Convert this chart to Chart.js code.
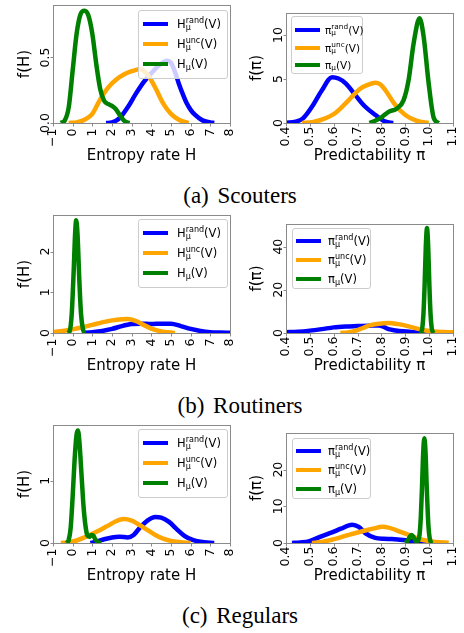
<!DOCTYPE html>
<html><head><meta charset="utf-8">
<script src="https://cdn.jsdelivr.net/npm/chart.js@4.4.0/dist/chart.umd.min.js"></script>
<style>
html,body{margin:0;padding:0;background:#fff;}
body{width:464px;height:633px;position:relative;overflow:hidden;font-family:'DejaVu Sans',sans-serif;}
.panel{position:absolute;}
.legend{position:absolute;background:rgba(255,255,255,0.8);border:1px solid #cccccc;border-radius:3px;box-sizing:border-box;}
.row{position:absolute;left:0;height:0;width:100%;}
.hd{position:absolute;top:-2px;height:4px;}
.lbl{position:absolute;top:0;line-height:0;white-space:nowrap;color:#000;font-family:'DejaVu Sans',sans-serif;}
.ss{position:relative;}
.sp{position:relative;}
.sb{position:absolute;left:0;line-height:0;}
.caption{position:absolute;left:0;width:480px;text-align:center;font-family:'Liberation Serif',serif;font-size:23px;line-height:23px;color:#000;white-space:nowrap;}
</style></head><body>
<script>
// ---------------- data ----------------
const seriesSup = ['rand', 'unc', ''];
const hTicks = [-1, 0, 1, 2, 3, 4, 5, 6, 7, 8];
const hTickLabels = ['\u22121', '0', '1', '2', '3', '4', '5', '6', '7', '8'];
const piTicks = [0.4, 0.5, 0.6, 0.7, 0.8, 0.9, 1.0, 1.1];
const piTickLabels = ['0.4', '0.5', '0.6', '0.7', '0.8', '0.9', '1.0', '1.1'];

const yTicksScoutersH = [0, 0.5];      const yLabelsScoutersH = ['0.0', '0.5'];
const yTicksScoutersPi = [0, 5, 10];   const yLabelsScoutersPi = ['0', '5', '10'];
const yTicksRoutinersH = [0, 1, 2];    const yLabelsRoutinersH = ['0', '1', '2'];
const yTicksRoutinersPi = [0, 20, 40]; const yLabelsRoutinersPi = ['0', '20', '40'];
const yTicksRegularsH = [0, 1];        const yLabelsRegularsH = ['0', '1'];
const yTicksRegularsPi = [0, 10, 20];  const yLabelsRegularsPi = ['0', '10', '20'];

// Scouters — entropy rate H
const scoutersH_rand = [[1.7,0],[2.0,0.005],[2.4,0.04],[2.8,0.12],[3.2,0.22],[3.6,0.31],[4.0,0.38],[4.4,0.44],[4.8,0.475],[5.0,0.46],[5.2,0.39],[5.4,0.30],[5.6,0.22],[5.8,0.15],[6.0,0.10],[6.2,0.065],[6.6,0.02],[7.0,0.005],[7.2,0]];
const scoutersH_unc = [[-0.2,0],[0.2,0.005],[0.6,0.025],[1.0,0.07],[1.4,0.18],[1.8,0.27],[2.2,0.33],[2.6,0.37],[3.0,0.395],[3.4,0.41],[3.8,0.37],[4.2,0.27],[4.6,0.15],[5.0,0.07],[5.4,0.025],[5.8,0.004],[5.9,0]];
const scoutersH = [[-0.6,0],[-0.4,0.02],[-0.2,0.12],[0.0,0.40],[0.2,0.68],[0.4,0.83],[0.6,0.857],[0.8,0.82],[1.0,0.68],[1.2,0.45],[1.4,0.26],[1.6,0.17],[1.8,0.145],[2.0,0.13],[2.2,0.105],[2.4,0.06],[2.6,0.02],[2.8,0.003],[2.9,0]];
// Scouters — predictability pi
const scoutersPi_rand = [[0.4,0.03],[0.44,0.15],[0.47,0.5],[0.51,1.9],[0.55,3.7],[0.593,5.2],[0.62,5.05],[0.65,4.5],[0.69,3.2],[0.73,1.9],[0.775,0.9],[0.81,0.23],[0.84,0.02],[0.85,0]];
const scoutersPi_unc = [[0.467,0],[0.51,0.1],[0.55,0.38],[0.607,1.14],[0.663,2.6],[0.711,3.9],[0.74,4.3],[0.774,4.58],[0.795,4.4],[0.816,3.75],[0.858,2.05],[0.9,0.9],[0.949,0.23],[0.998,0]];
const scoutersPi = [[0.75,0],[0.78,0.35],[0.8,0.65],[0.83,1.27],[0.865,1.65],[0.893,2.6],[0.914,4.9],[0.935,9.05],[0.96,11.9],[0.977,9.8],[0.998,4.5],[1.019,0.6],[1.04,0]];
// Routiners — entropy rate H
const routinersH_rand = [[0.5,0],[1.0,0.02],[1.5,0.05],[2.0,0.1],[2.5,0.17],[3.0,0.22],[3.5,0.23],[4.0,0.22],[4.5,0.23],[5.0,0.23],[5.5,0.17],[6.0,0.1],[6.5,0.05],[7.0,0.02],[7.5,0.01],[8.0,0.005]];
const routinersH_unc = [[-1.0,0.02],[-0.5,0.05],[0.0,0.09],[0.5,0.14],[1.0,0.2],[1.5,0.26],[2.0,0.31],[2.5,0.34],[2.8,0.345],[3.2,0.3],[3.6,0.2],[4.0,0.11],[4.5,0.04],[5.0,0.01],[5.2,0]];
const routinersH = [[-0.25,0],[-0.15,0.05],[-0.05,0.45],[0.05,1.5],[0.12,2.4],[0.18,2.77],[0.25,2.4],[0.33,1.4],[0.42,0.5],[0.52,0.1],[0.6,0.01],[0.65,0]];
// Routiners — predictability pi
const routinersPi_rand = [[0.4,0.4],[0.45,0.6],[0.5,1.1],[0.55,1.8],[0.6,2.6],[0.65,3.0],[0.7,3.2],[0.75,3.4],[0.79,3.5],[0.81,2.8],[0.83,1.8],[0.86,1.2],[0.89,0.8],[0.93,0.45],[0.96,0.25],[1.0,0.05],[1.01,0]];
const routinersPi_unc = [[0.628,0],[0.66,0.3],[0.69,1.0],[0.72,2.2],[0.75,3.5],[0.79,4.3],[0.83,4.6],[0.87,4.1],[0.91,3.2],[0.95,2.0],[0.985,1.2],[1.02,0.7],[1.055,0.45],[1.1,0.3]];
const routinersPi = [[0.96,0],[0.966,0.4],[0.971,2.1],[0.976,8.5],[0.981,22],[0.986,40],[0.991,48.6],[0.996,40],[1.001,22],[1.006,8.5],[1.011,2.1],[1.016,0.4],[1.021,0]];
// Regulars — entropy rate H
const regularsH_rand = [[0.9,0],[1.2,0.02],[1.6,0.06],[2.0,0.09],[2.4,0.1],[2.8,0.09],[3.1,0.13],[3.4,0.24],[3.8,0.36],[4.2,0.42],[4.5,0.41],[4.9,0.34],[5.3,0.22],[5.7,0.11],[6.1,0.05],[6.5,0.02],[7.0,0.003],[7.2,0]];
const regularsH_unc = [[-0.6,0],[-0.2,0.01],[0.2,0.04],[0.6,0.09],[1.0,0.15],[1.4,0.21],[1.8,0.28],[2.2,0.35],[2.6,0.385],[3.0,0.36],[3.4,0.29],[3.8,0.21],[4.2,0.13],[4.6,0.07],[5.0,0.035],[5.4,0.015],[5.8,0.003],[6.0,0]];
const regularsH = [[-0.3,0],[-0.2,0.05],[-0.1,0.25],[0.0,0.75],[0.1,1.35],[0.2,1.75],[0.27,1.81],[0.35,1.6],[0.45,1.1],[0.55,0.6],[0.65,0.28],[0.75,0.12],[0.85,0.1],[0.95,0.13],[1.05,0.12],[1.15,0.06],[1.3,0.01],[1.45,0]];
// Regulars — predictability pi
const regularsPi_rand = [[0.425,0],[0.46,0.15],[0.495,0.45],[0.551,1.9],[0.593,2.9],[0.63,3.9],[0.677,5.0],[0.705,4.4],[0.732,2.7],[0.774,1.4],[0.81,1.15],[0.844,1.1],[0.88,0.9],[0.914,0.7],[0.94,0.45],[0.963,0.15],[0.998,0]];
const regularsPi_unc = [[0.509,0],[0.55,0.3],[0.593,0.9],[0.663,2.2],[0.732,3.4],[0.77,4.0],[0.802,4.4],[0.83,4.2],[0.858,3.6],[0.914,2.2],[0.97,0.9],[1.026,0.3],[1.082,0.1]];
const regularsPi = [[0.9,0],[0.91,0.6],[0.92,1.8],[0.927,2.2],[0.935,1.6],[0.943,0.6],[0.95,0.5],[0.955,0.9],[0.96,2.4],[0.965,7],[0.97,15],[0.975,24.5],[0.98,28.6],[0.985,24.5],[0.99,15],[0.995,7],[1.0,2.4],[1.005,0.6],[1.01,0.1],[1.015,0]];

const captionLetters = ['(a)', '(b)', '(c)'];
const captionNames = ['Scouters', 'Routiners', 'Regulars'];

// ---------------- styling / layout ----------------
const COLORS = ['#0000ff', '#ffa500', '#008000'];
const SPINE = '#8a8a8a';
const FONT = "'DejaVu Sans', sans-serif";

const framePlugin = {
  id: 'frame',
  afterDraw(chart, args, o) {
    const {ctx, chartArea: a, scales: {x, y}} = chart;
    ctx.save();
    ctx.strokeStyle = SPINE; ctx.lineWidth = 1;
    const L = Math.round(a.left) + 0.5, T = Math.round(a.top) + 0.5;
    const R = Math.round(a.right) + 0.5, B = Math.round(a.bottom) + 0.5;
    ctx.strokeRect(L, T, R - L, B - T);
    ctx.beginPath();
    x.ticks.forEach(t => { const px = Math.round(x.getPixelForValue(t.value)) + 0.5; ctx.moveTo(px, B); ctx.lineTo(px, B + 3); });
    y.ticks.forEach(t => { const py = Math.round(y.getPixelForValue(t.value)) + 0.5; ctx.moveTo(L, py); ctx.lineTo(L - 3, py); });
    ctx.stroke();
    ctx.fillStyle = '#000';
    ctx.font = o.tickSize + 'px ' + FONT;
    x.ticks.forEach((t, i) => {
      const px = x.getPixelForValue(t.value);
      ctx.save(); ctx.translate(px, B + o.xGap); ctx.rotate(-Math.PI / 2);
      ctx.textAlign = 'right'; ctx.textBaseline = 'middle';
      ctx.fillText(o.xLabels[i], 0, 0); ctx.restore();
    });
    y.ticks.forEach((t, i) => {
      const py = y.getPixelForValue(t.value);
      ctx.save(); ctx.translate(L - o.yGap, py); ctx.rotate(-Math.PI / 2);
      ctx.textAlign = 'center'; ctx.textBaseline = 'alphabetic';
      ctx.fillText(o.yLabels[i], 0, 0); ctx.restore();
    });
    ctx.restore();
  }
};

function makeChart(p) {
  const div = document.createElement('div');
  div.className = 'panel';
  Object.assign(div.style, {left: p.left + 'px', top: p.top + 'px', width: p.w + 'px', height: p.h + 'px'});
  const cv = document.createElement('canvas');
  div.appendChild(cv);
  document.body.appendChild(div);
  new Chart(cv, {
    type: 'line',
    data: {
      datasets: p.series.map((s, i) => ({
        label: p.sym + (seriesSup[i] ? '_μ^' + seriesSup[i] : '_μ') + '(V)',
        data: s.map(([x, y]) => ({x, y})),
        borderColor: COLORS[i], backgroundColor: COLORS[i],
        borderWidth: 4.5, pointRadius: 0, fill: false,
        cubicInterpolationMode: 'monotone', order: 3 - i
      }))
    },
    options: {
      responsive: true, maintainAspectRatio: false, animation: false, events: [],
      layout: {padding: {top: p.padTop, right: p.padRight, left: 0, bottom: 0}},
      plugins: {
        legend: {display: false}, tooltip: {enabled: false},
        frame: {xLabels: p.xLabels, yLabels: p.yLabels, tickSize: 12.5, xGap: p.xGap, yGap: 5}
      },
      scales: {
        x: {
          type: 'linear', min: p.xMin, max: p.xMax,
          grid: {display: false}, border: {display: false}, ticks: {display: false},
          afterBuildTicks: s => { s.ticks = p.xTicks.map(v => ({value: v})); },
          afterFit: s => { s.height = p.xH; },
          title: {display: true, text: p.xTitle, color: '#000', font: {family: FONT, size: 15}, padding: {top: 0, bottom: 4.5}}
        },
        y: {
          type: 'linear', min: 0, max: p.yMax,
          grid: {display: false}, border: {display: false}, ticks: {display: false},
          afterBuildTicks: s => { s.ticks = p.yTicks.map(v => ({value: v})); },
          afterFit: s => { s.width = p.yW; },
          title: {display: true, text: p.yTitle, color: '#000', font: {family: FONT, size: 15}, padding: {top: p.yTitlePad, bottom: 0}}
        }
      }
    },
    plugins: [framePlugin]
  });
}

function makeLegend(L, sym) {
  const box = document.createElement('div');
  box.className = 'legend';
  Object.assign(box.style, {left: L.left + 'px', top: L.top + 'px', width: L.width + 'px', height: L.height + 'px'});
  const s = L.F * 0.7;
  seriesSup.forEach((sup, i) => {
    const row = document.createElement('div');
    row.className = 'row';
    row.style.top = L.rows[i] + 'px';
    const hd = document.createElement('div');
    hd.className = 'hd';
    Object.assign(hd.style, {left: L.hx + 'px', width: L.hw + 'px', background: COLORS[i]});
    const lbl = document.createElement('div');
    lbl.className = 'lbl';
    lbl.style.left = L.tx + 'px';
    lbl.style.fontSize = L.F + 'px';
    if (sup) {
      lbl.innerHTML = sym + '<span class="ss" style="font-size:' + s + 'px"><span class="sp" style="top:' + (-L.F * 0.46) + 'px">' + sup +
        '</span><span class="sb" style="top:' + (L.F * 0.18 + 0.582 * s) + 'px">μ</span></span>(V)';
    } else {
      lbl.innerHTML = sym + '<span class="sp" style="font-size:' + s + 'px;top:' + (L.F * 0.18) + 'px">μ</span>(V)';
    }
    row.appendChild(hd); row.appendChild(lbl);
    box.appendChild(row);
  });
  document.body.appendChild(box);
}

const leftBase = {left: 0, w: 240, h: 170, padTop: 5, padRight: 10, yW: 53, xH: 47, xMin: -1, xMax: 8,
  xTicks: hTicks, xLabels: hTickLabels, xTitle: 'Entropy rate H', yTitle: 'f(H)', sym: 'H', yTitlePad: 16, xGap: 5};
const rightBase = {left: 240, w: 224, h: 170, padRight: 11, yW: 46, xH: 47, xMin: 0.4, xMax: 1.1,
  xTicks: piTicks, xLabels: piTickLabels, xTitle: 'Predictability π', yTitle: 'f(π)', sym: 'π', yTitlePad: 8, xGap: 3};

const panels = [
  Object.assign({}, leftBase, {top: 0, yMax: 0.9, yTicks: yTicksScoutersH, yLabels: yLabelsScoutersH, series: [scoutersH_rand, scoutersH_unc, scoutersH]}),
  Object.assign({}, rightBase, {top: 0, padTop: 13, yMax: 12.5, yTicks: yTicksScoutersPi, yLabels: yLabelsScoutersPi, series: [scoutersPi_rand, scoutersPi_unc, scoutersPi]}),
  Object.assign({}, leftBase, {top: 210, yMax: 2.9, yTicks: yTicksRoutinersH, yLabels: yLabelsRoutinersH, series: [routinersH_rand, routinersH_unc, routinersH]}),
  Object.assign({}, rightBase, {top: 210, padTop: 14, yMax: 50.5, yTicks: yTicksRoutinersPi, yLabels: yLabelsRoutinersPi, series: [routinersPi_rand, routinersPi_unc, routinersPi]}),
  Object.assign({}, leftBase, {top: 420, yMax: 1.9, yTicks: yTicksRegularsH, yLabels: yLabelsRegularsH, series: [regularsH_rand, regularsH_unc, regularsH]}),
  Object.assign({}, rightBase, {top: 420, padTop: 13, yMax: 30, yTicks: yTicksRegularsPi, yLabels: yLabelsRegularsPi, series: [regularsPi_rand, regularsPi_unc, regularsPi]})
];
panels.forEach(makeChart);

const legends = [
  [{left: 138, top: 10, width: 90, height: 69, rows: [13, 33, 53], hx: 4, hw: 25, tx: 38, F: 11.5}, 'H'],
  [{left: 291, top: 16, width: 72, height: 58, rows: [12.5, 31, 47.5], hx: 3, hw: 25, tx: 33, F: 10.5}, 'π'],
  [{left: 138, top: 219, width: 90, height: 69, rows: [13, 33, 53], hx: 4, hw: 25, tx: 38, F: 11.5}, 'H'],
  [{left: 292, top: 228, width: 79, height: 61, rows: [12, 31, 50], hx: 3, hw: 25, tx: 35, F: 11.5}, 'π'],
  [{left: 138, top: 429, width: 90, height: 69, rows: [13, 33, 53], hx: 4, hw: 25, tx: 38, F: 11.5}, 'H'],
  [{left: 292, top: 438, width: 79, height: 61, rows: [12, 31, 50], hx: 3, hw: 25, tx: 35, F: 11.5}, 'π']
];
legends.forEach(([L, sym]) => makeLegend(L, sym));

const captionTops = [183.5, 393.5, 603.5];
captionLetters.forEach((c, i) => {
  const d = document.createElement('div');
  d.className = 'caption';
  d.style.top = captionTops[i] + 'px';
  d.innerHTML = '<span style="margin-right:3px">' + c + '</span> ' + captionNames[i];
  document.body.appendChild(d);
});
</script>
</body></html>
